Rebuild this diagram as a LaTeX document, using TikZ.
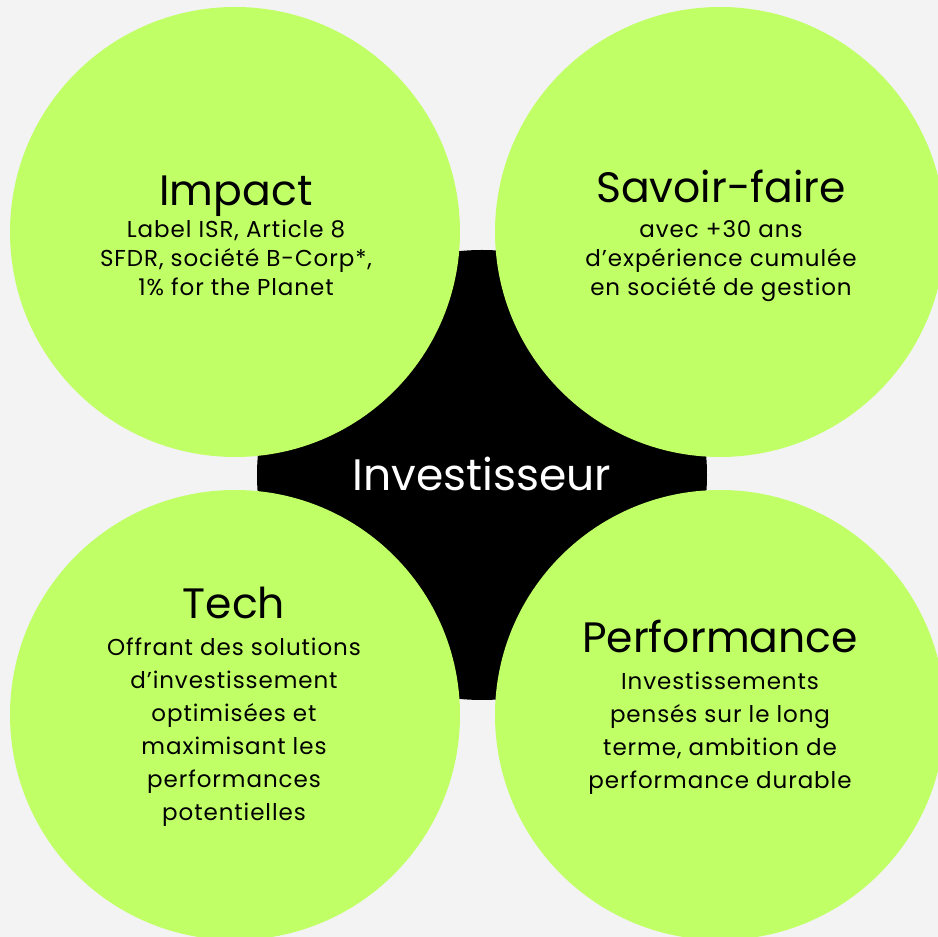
\documentclass[tikz,border=0pt]{standalone}
\usepackage{fontspec}
\setmainfont{Poppins}
\newfontfamily\widepoppins[LetterSpace=4]{Poppins}
\definecolor{bgColor}{RGB}{243,243,243}
\definecolor{limeColor}{RGB}{192,255,102}
\tikzset{
  pillar/.style={fill=limeColor,draw=none},
  hub/.style={fill=black,draw=none},
  headline/.style={anchor=base,inner sep=0pt,outer sep=0pt,font=\fontsize{42.5}{50}\selectfont},
  blurb/.style={anchor=north,align=center,inner sep=0pt,outer sep=0pt,font=\widepoppins\fontsize{23}{#1}\selectfont},
  blurb/.default=29
}
\begin{document}
\begin{tikzpicture}[x=1pt,y=1pt]
\path[use as bounding box,fill=bgColor] (0,0) rectangle (938,937);
\begin{scope}
\path[clip] (0,0) rectangle (938,937);

% centre
\path[hub] (482,462) circle (225);

% four pillars
\path[pillar] (235,705) circle (225);
\path[pillar] (720,705) circle (225);
\path[pillar] (235,222) circle (225);
\path[pillar] (720,222) circle (225);

\node[headline] (impact) at (236,731) {Impact};
\node[blurb] (impactTxt) at (236,717) {Label ISR, Article 8\\SFDR, société B-Corp*,\\1\% for the Planet};

\node[headline] (savoir) at (721,734) {Savoir-faire};
\node[blurb] (savoirTxt) at (721,716) {avec +30 ans\\d’expérience cumulée\\en société de gestion};

\node[headline] (tech) at (234,318) {Tech};
\node[blurb=33] (techTxt) at (234,299) {Offrant des solutions\\d’investissement\\optimisées et\\maximisant les\\performances\\potentielles};

\node[headline] (perf) at (720,284) {Performance};
\node[blurb=33] (perfTxt) at (720,265) {Investissements\\pensés sur le long\\terme, ambition de\\performance durable};

\node[headline,text=white,font=\fontsize{44}{52}\selectfont] (investor) at (482,446) {Investisseur};
\end{scope}
\end{tikzpicture}
\end{document}
